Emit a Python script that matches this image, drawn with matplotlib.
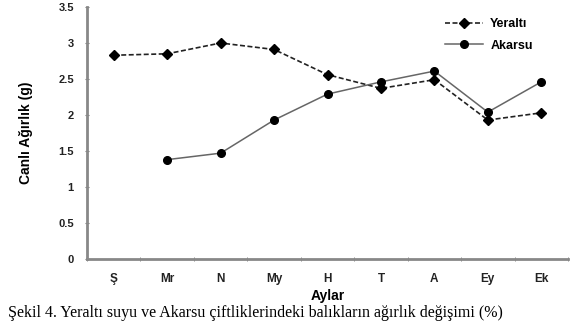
import matplotlib
matplotlib.use("Agg")
import matplotlib.pyplot as plt
import numpy as np

months = ["Ş", "Mr", "N", "My", "H", "T", "A", "Ey", "Ek"]
yeralti = [2.83, 2.85, 3.0, 2.91, 2.56, 2.37, 2.49, 1.93, 2.03]
akarsu = [np.nan, 1.38, 1.47, 1.93, 2.29, 2.46, 2.61, 2.04, 2.46]
yticks = [0, 0.5, 1, 1.5, 2, 2.5, 3, 3.5]
ytick_labels = ["0", "0.5", "1", "1.5", "2", "2.5", "3", "3.5"]
caption = "Şekil 4. Yeraltı suyu ve Akarsu çiftliklerindeki balıkların ağırlık değişimi (%)"

plt.rcParams['font.family'] = ['Liberation Sans', 'DejaVu Sans']

fig = plt.figure(figsize=(5.74, 3.22), dpi=100)
ax = fig.add_axes([87/574, 1 - 259/322, (568-87)/574, (259-7)/322])

x = np.arange(len(months))
ax.plot(x, yeralti, linestyle=(0, (3, 1.5)), color='#222222', lw=1.2,
        marker='D', ms=5, mfc='black', mec='black', label='Yeraltı')
ax.plot(x, akarsu, linestyle='-', color='#666666', lw=1.1,
        marker='o', ms=5.5, mfc='black', mec='black', label='Akarsu')

ax.set_xlim(-0.5, len(months) - 0.5)
ax.set_ylim(0, 3.5)
ax.set_yticks(yticks)
ax.set_yticklabels(ytick_labels, fontsize=8, fontweight='bold', color='#222222')
ax.set_xticks(x)
ax.set_xticklabels(months, fontsize=8.5, fontweight='bold', color='#222222')
ax.set_xticks(np.arange(-0.5, len(months)), minor=True)
ax.tick_params(axis='x', which='major', length=0, pad=10)
ax.tick_params(axis='x', which='minor', length=3, direction='inout', color='#777777')
ax.tick_params(axis='y', length=3, direction='inout', color='#777777', pad=8)

for s in ['top', 'right']:
    ax.spines[s].set_visible(False)
for s in ['left', 'bottom']:
    ax.spines[s].set_color('#888888')
    ax.spines[s].set_linewidth(2)

ax.set_ylabel("Canlı Ağırlık (g)", fontsize=10, fontweight='bold', labelpad=18)
ax.set_xlabel("Aylar", fontsize=10, fontweight='bold', labelpad=3)

leg = ax.legend(loc='upper right', bbox_to_anchor=(0.95, 1.0), frameon=False,
                fontsize=9, handlelength=3, labelspacing=0.75, handletextpad=0.6)
for t in leg.get_texts():
    t.set_fontweight('bold')

fig.text(8/574, 1/322, caption, fontsize=11.5, family='Liberation Serif',
         ha='left', va='bottom')

fig.savefig("out.png", dpi=100)
